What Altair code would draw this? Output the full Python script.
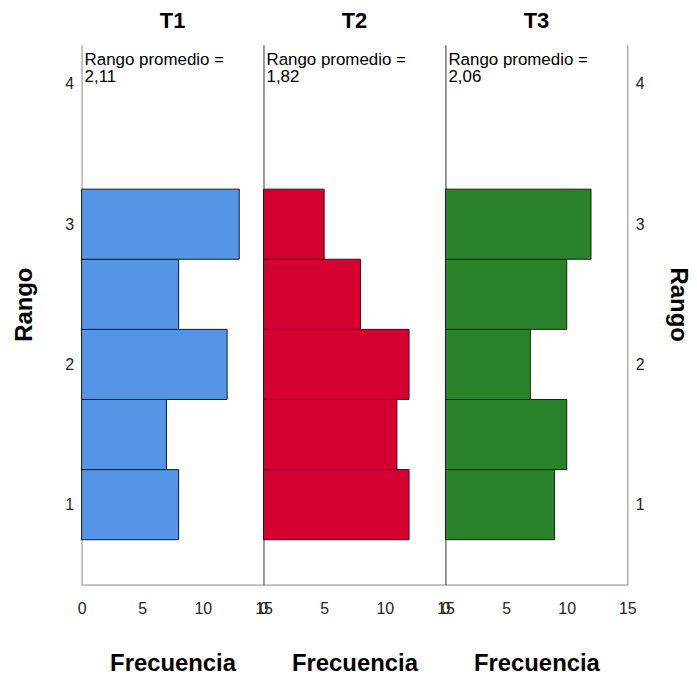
import altair as alt
import pandas as pd

# ---- data ----
panels = ["T1", "T2", "T3"]
mean_ranks = ["2,11", "1,82", "2,06"]
bin_centers = [1.0, 1.5, 2.0, 2.5, 3.0]
bin_width = 0.5
freq_t1 = [8, 7, 12, 8, 13]
freq_t2 = [12, 11, 12, 8, 5]
freq_t3 = [9, 10, 7, 10, 12]
freqs = [freq_t1, freq_t2, freq_t3]
colors = ["#5595e5", "#d4002f", "#2a822a"]
x_ticks = [0, 5, 10, 15]
y_ticks = [1, 2, 3, 4]

PANEL_W = 183
PANEL_H = 543
y_scale = alt.Scale(domain=[0.43, 4.28], nice=False, zero=False)
x_scale = alt.Scale(domain=[0, 15], nice=False)

x_axis = alt.Axis(
    values=x_ticks, title="Frecuencia", grid=False, ticks=False, tickSize=0,
    labelFlush=False, labelOverlap=False, domainColor="#8a8a8a",
    labelPadding=16, titlePadding=35, titleFontSize=24, titleFontWeight="bold",
    titleColor="#000000", labelFontSize=16, labelColor="#222222",
    titleFont="Liberation Sans", labelFont="Liberation Sans",
)

def y_axis_labelled(orient, pad):
    return alt.Axis(
        orient=orient, values=y_ticks, title="Rango", grid=False, ticks=False,
        tickSize=0, labelPadding=8, titlePadding=pad, titleFontSize=24,
        titleFontWeight="bold", titleColor="#000000", labelFontSize=16,
        labelColor="#222222", domainColor="#8a8a8a", titleY=261,
        titleFont="Liberation Sans", labelFont="Liberation Sans",
    )

y_axis_plain = alt.Axis(
    orient="left", labels=False, ticks=False, tickSize=0, title=None,
    grid=False, domainColor="#333333",
)


def make_panel(i):
    df = pd.DataFrame({
        "lo": [c - bin_width / 2 for c in bin_centers],
        "hi": [c + bin_width / 2 for c in bin_centers],
        "freq": freqs[i],
        "base": [0] * len(bin_centers),
    })
    yax = y_axis_labelled("left", 28) if i == 0 else y_axis_plain
    bars = alt.Chart(df).mark_bar(
        color=colors[i], stroke="#1a1a1a", strokeWidth=1, opacity=1
    ).encode(
        y=alt.Y("lo:Q", scale=y_scale, axis=yax),
        y2="hi:Q",
        x=alt.X("freq:Q", scale=x_scale, axis=x_axis),
        x2="base:Q",
    )
    txt_df = pd.DataFrame({"t": ["Rango promedio =\n" + mean_ranks[i]]})
    txt = alt.Chart(txt_df).mark_text(
        align="left", baseline="top", fontSize=17, lineHeight=17,
        lineBreak="\n", font="Liberation Sans", color="#000000",
    ).encode(x=alt.value(3), y=alt.value(7), text="t:N")
    layers = [bars, txt]
    if i == 2:
        right = alt.Chart(df).mark_point(opacity=0).encode(
            y=alt.Y("lo:Q", scale=y_scale, axis=y_axis_labelled("right", 21)),
        )
        layers.append(right)
    ch = alt.layer(*layers).properties(
        width=PANEL_W, height=PANEL_H,
        title=alt.TitleParams(panels[i], fontSize=22, fontWeight="bold",
                              anchor="middle", offset=12, color="#000000",
                              font="Liberation Sans"),
    )
    if i == 2:
        ch = ch.resolve_axis(y="independent")
    return ch


chart = alt.hconcat(
    *[make_panel(i) for i in range(3)], spacing=0, bounds="flush"
).properties(
    padding={"left": 5, "top": 0, "right": 0, "bottom": -5},
    background="#ffffff",
).configure_view(strokeWidth=0)

chart.save("out.html", embed_options={"renderer": "svg", "actions": False})
